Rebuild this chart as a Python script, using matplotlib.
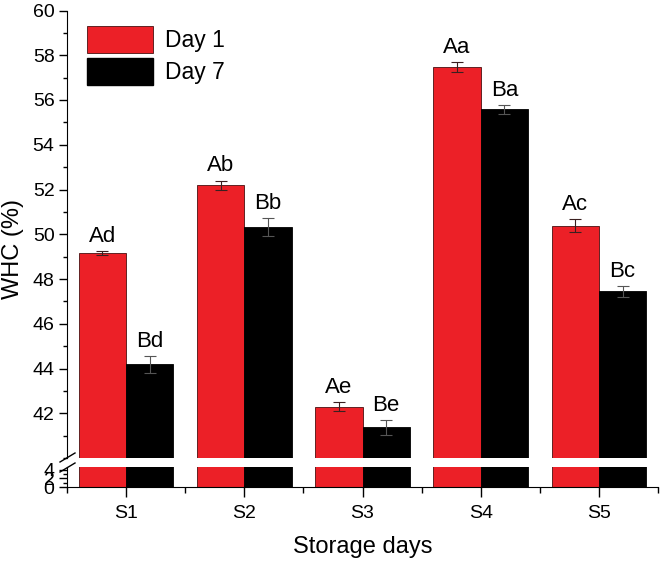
import numpy as np
import matplotlib
matplotlib.use('Agg')
import matplotlib.pyplot as plt
from matplotlib.ticker import MultipleLocator
from matplotlib.patches import Patch

plt.rcParams['font.family'] = ['Liberation Sans', 'DejaVu Sans']

groups = ['S1', 'S2', 'S3', 'S4', 'S5']
day1 = [49.15, 52.20, 42.30, 57.47, 50.38]
day1_err = [0.08, 0.20, 0.20, 0.22, 0.30]
day7 = [44.18, 50.34, 41.38, 55.58, 47.45]
day7_err = [0.38, 0.40, 0.33, 0.20, 0.25]
day1_letters = ['Ad', 'Ab', 'Ae', 'Aa', 'Ac']
day7_letters = ['Bd', 'Bb', 'Be', 'Ba', 'Bc']

red = '#ec2027'
W, H = 661, 562
fig = plt.figure(figsize=(W / 100, H / 100), dpi=100)

left, right = 67 / W, 658 / W
ax_top = fig.add_axes([left, 1 - 458 / H, right - left, (458 - 10.5) / H])
ax_bot = fig.add_axes([left, 1 - 487 / H, right - left, (487 - 467) / H])

x = np.arange(1, len(groups) + 1)
w = 0.4

for ax in (ax_top, ax_bot):
    ax.bar(x - w / 2, day1, w, color=red, edgecolor='#4a1010', linewidth=0.6)
    ax.bar(x + w / 2, day7, w, color='black', edgecolor='black', linewidth=0.6)
    ax.set_xlim(0.5, 5.5)
    ax.spines['top'].set_visible(False)
    ax.spines['right'].set_visible(False)
    ax.tick_params(axis='y', direction='out', length=6, width=1, labelsize=14, pad=3)
    ax.tick_params(axis='y', which='minor', direction='out', length=3, width=1)

# error bars + letters on the upper part
ax_top.errorbar(x - w / 2, day1, yerr=day1_err, fmt='none', ecolor='#3a2020',
                elinewidth=0.8, capsize=4, capthick=0.8)
ax_top.errorbar(x + w / 2, day7, yerr=day7_err, fmt='none', ecolor='#555555',
                elinewidth=0.8, capsize=4, capthick=0.8)
for xi, v, e, t in zip(x - w / 2, day1, day1_err, day1_letters):
    ax_top.annotate(t, (xi, v + e), xytext=(0, 3), textcoords='offset points',
                    ha='center', va='bottom', fontsize=16)
for xi, v, e, t in zip(x + w / 2, day7, day7_err, day7_letters):
    ax_top.annotate(t, (xi, v + e), xytext=(0, 3), textcoords='offset points',
                    ha='center', va='bottom', fontsize=16)

ax_top.set_ylim(40, 60)
ax_top.set_yticks([42, 44, 46, 48, 50, 52, 54, 56, 58, 60])
ax_top.yaxis.set_minor_locator(MultipleLocator(1))
ax_top.spines['bottom'].set_visible(False)
ax_top.set_xticks([])

ax_bot.set_ylim(0, 4.7)
ax_bot.set_yticks([0, 2, 4])
ax_bot.yaxis.set_minor_locator(MultipleLocator(1))
ax_bot.set_xticks(x)
ax_bot.set_xticklabels(groups)
ax_bot.xaxis.set_minor_locator(MultipleLocator(0.5))
ax_bot.tick_params(axis='x', direction='out', length=7, width=1, labelsize=14, pad=6)
ax_bot.tick_params(axis='x', which='minor', direction='out', length=4, width=1)
ax_bot.set_xlabel('Storage days', fontsize=17, labelpad=10)

# break marks
for yb in (456, 466):
    fig.add_artist(plt.Line2D([60 / W, 75 / W], [1 - (yb + 6) / H, 1 - (yb - 3) / H],
                              color='black', lw=1))

fig.text(13 / W, 1 - 249 / H, 'WHC (%)', rotation=90, fontsize=17,
         ha='center', va='center')

handles = [Patch(facecolor=red, edgecolor='#4a1010', linewidth=0.6),
           Patch(facecolor='black', edgecolor='black')]
ax_top.legend(handles, ['Day 1', 'Day 7'], loc='upper left',
              bbox_to_anchor=(20 / 591, 1 - 15.5 / 447.5), frameon=False,
              fontsize=16.5, handlelength=2.9, handleheight=1.45,
              labelspacing=0.2, borderpad=0, borderaxespad=0, handletextpad=0.5)

fig.savefig('out.png', dpi=100)
